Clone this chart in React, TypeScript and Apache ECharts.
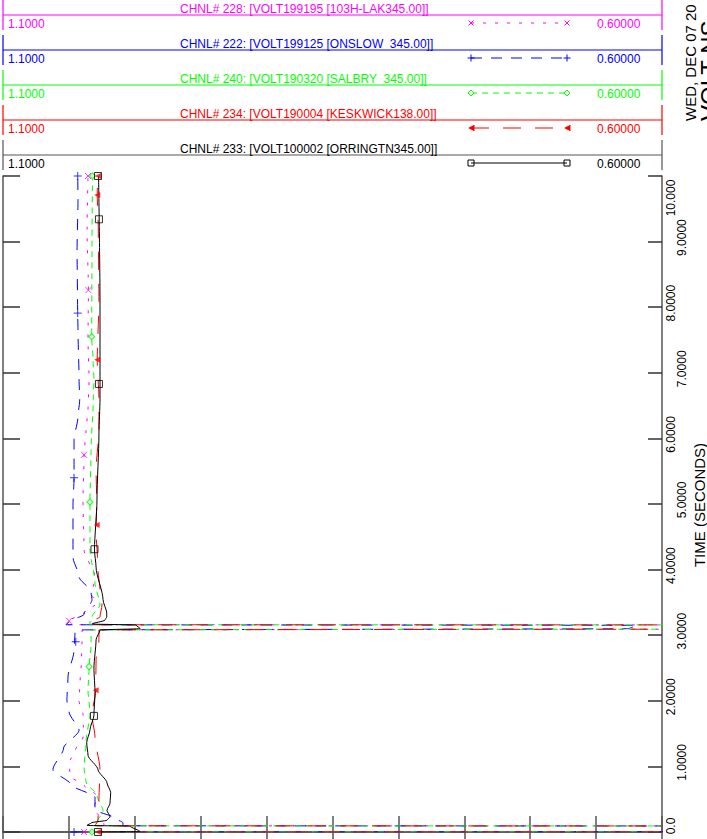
import React, { useEffect, useRef } from "react";
import * as echarts from "echarts";

const FONT = '"Liberation Sans", Arial, Helvetica, sans-serif';

// ---------- texts ----------
const CHANNEL_TITLES = [
  "CHNL# 228: [VOLT199195 [103H-LAK345.00]]",
  "CHNL# 222: [VOLT199125 [ONSLOW  345.00]]",
  "CHNL# 240: [VOLT190320 [SALBRY  345.00]]",
  "CHNL# 234: [VOLT190004 [KESKWICK138.00]]",
  "CHNL# 233: [VOLT100002 [ORRINGTN345.00]]",
];
const CHANNEL_COLORS = ["#ff00ff", "#0000ff", "#00ff00", "#ff0000", "#000000"];
const CHANNEL_DASH: (number[] | "solid")[] = [[3, 9], [11, 9], [6, 5], [18, 14], "solid"];
const CHANNEL_MARK = ["x", "plus", "diamond", "tri", "square"];
const SCALE_LEFT = "1.1000";
const SCALE_RIGHT = "0.60000";
const TIME_TICK_LABELS = ["0.0", "1.0000", "2.0000", "3.0000", "4.0000", "5.0000", "6.0000", "7.0000", "8.0000", "9.0000", "10.000"];
const AXIS_TITLE = "TIME (SECONDS)";
const DATE_TEXT = "WED, DEC 07 20";
const PLOT_TITLE = "VOLT NS";

const V_MIN = 0.6;
const V_MAX = 1.1;
const T_MIN = 0;
const T_MAX = 10;

// ---------- data: [time (s), voltage (pu)] ----------
const VOLT_103H_LAK: [number, number][] = [
  [0, 1.0385], [0.005, 0.3], [0.09, 0.3], [0.095, 1.0234], [0.12, 1.0234], [0.22, 1.0264],
  [0.35, 1.031], [0.55, 1.0287], [0.7, 1.038], [0.85, 1.049], [1.05, 1.0499], [1.25, 1.045],
  [1.45, 1.0392], [1.6, 1.039], [1.78, 1.0392], [2.0, 1.0423], [2.3, 1.0415], [2.6, 1.0405],
  [2.9, 1.04], [3.08, 1.04], [3.1, 0.3], [3.155, 0.3], [3.16, 1.0515], [3.22, 1.0499],
  [3.34, 1.0385], [3.49, 1.0287], [3.61, 1.0325], [3.89, 1.0302], [4.3, 1.0385], [5.06, 1.0393],
  [5.75, 1.0385], [6.13, 1.037], [6.43, 1.0355], [6.89, 1.0347], [7.5, 1.0355], [8.25, 1.0352],
  [9.18, 1.0362], [10, 1.0355],
];
const VOLT_ONSLOW: [number, number][] = [
  [0, 1.0461], [0.005, 0.3], [0.09, 0.3], [0.095, 1.009], [0.14, 1.009], [0.21, 1.015],
  [0.34, 1.0302], [0.53, 1.0302], [0.72, 1.0484], [0.95, 1.0621], [1.28, 1.054], [1.55, 1.0423],
  [1.83, 1.0499], [2.01, 1.0515], [2.36, 1.0507], [2.77, 1.0461], [3.03, 1.0454], [3.08, 1.0446],
  [3.1, 0.625], [3.15, 0.619], [3.16, 1.0522], [3.2, 1.05], [3.32, 1.0385], [3.54, 1.0325],
  [3.66, 1.0332], [3.89, 1.0423], [4.19, 1.0469], [4.98, 1.0469], [5.4, 1.0461], [5.98, 1.0461],
  [6.33, 1.0431], [6.59, 1.0418], [6.9, 1.0423], [7.65, 1.0431], [7.97, 1.0434], [8.87, 1.0438],
  [9.63, 1.0431], [10, 1.0433],
];
const VOLT_SALBRY: [number, number][] = [
  [0, 1.0325], [0.005, 0.3], [0.09, 0.3], [0.095, 1.0287], [0.15, 1.0287], [0.32, 1.0241],
  [0.56, 1.0287], [0.76, 1.037], [0.98, 1.0385], [1.37, 1.037], [1.81, 1.034], [2.16, 1.0355],
  [2.5, 1.0347], [2.85, 1.0332], [3.08, 1.0332], [3.1, 0.3], [3.155, 0.3], [3.16, 1.034],
  [3.23, 1.034], [3.28, 1.0325], [3.46, 1.0264], [3.8, 1.0302], [4.3, 1.034], [5.03, 1.034],
  [5.82, 1.0332], [6.59, 1.0315], [6.9, 1.031], [7.2, 1.0317], [7.55, 1.0327], [8.87, 1.0325],
  [10, 1.0321],
];
const VOLT_KESKWICK: [number, number][] = [
  [0, 1.0279], [0.005, 0.3], [0.09, 0.3], [0.095, 1.03], [0.18, 1.0279], [0.49, 1.0272],
  [0.95, 1.0264], [1.45, 1.0302], [1.78, 1.0325], [2.16, 1.0297], [2.62, 1.0294], [2.93, 1.0272],
  [3.08, 1.0272], [3.1, 0.3], [3.155, 0.3], [3.16, 1.034], [3.2, 1.034], [3.28, 1.0264],
  [3.46, 1.0249], [3.69, 1.0264], [3.99, 1.0279], [4.6, 1.0294], [5.06, 1.0289], [5.52, 1.0294],
  [6.13, 1.0272], [6.59, 1.0272], [7.2, 1.0285], [8.11, 1.0272], [9.18, 1.0277], [9.74, 1.0285],
  [10, 1.0279],
];
const VOLT_ORRINGTN: [number, number][] = [
  [0, 1.0279], [0.005, 0.996], [0.09, 1.0036], [0.1, 1.0363], [0.14, 1.033], [0.18, 1.0211],
  [0.23, 1.0188], [0.33, 1.0211], [0.44, 1.0188], [0.6, 1.0183], [0.75, 1.0211], [0.95, 1.0279],
  [1.17, 1.0355], [1.36, 1.0365], [1.56, 1.034], [1.78, 1.031], [2.12, 1.0302], [2.5, 1.031],
  [2.93, 1.0294], [3.08, 1.0264], [3.1, 0.996], [3.155, 0.999], [3.17, 1.0325], [3.23, 1.0226],
  [3.28, 1.0213], [3.34, 1.0213], [3.54, 1.0241], [4.04, 1.0294], [4.3, 1.0306], [5.06, 1.0287],
  [6.08, 1.0272], [6.6, 1.0264], [8.1, 1.0264], [10, 1.0275],
];

// marker positions [time, voltage]
const MARK_103H_LAK: [number, number][] = [[0, 1.0385], [3.22, 1.0499], [5.75, 1.0385], [8.26, 1.0352], [10, 1.0355]];
const MARK_ONSLOW: [number, number][] = [[0, 1.0461], [2.9, 1.0448], [5.4, 1.0461], [7.91, 1.0433], [10, 1.0433]];
const MARK_SALBRY: [number, number][] = [[0, 1.0325], [2.52, 1.0347], [5.03, 1.034], [7.55, 1.0327], [10, 1.0321]];
const MARK_KESKWICK: [number, number][] = [[0, 1.0279], [2.16, 1.0297], [4.68, 1.0289], [7.2, 1.0285], [9.71, 1.0285], [10, 1.0279]];
const MARK_ORRINGTN: [number, number][] = [[0, 1.0279], [1.77, 1.031], [4.31, 1.0306], [6.83, 1.0272], [9.34, 1.0272], [10, 1.0279]];

const CURVES = [VOLT_103H_LAK, VOLT_ONSLOW, VOLT_SALBRY, VOLT_KESKWICK, VOLT_ORRINGTN];
const MARKS = [MARK_103H_LAK, MARK_ONSLOW, MARK_SALBRY, MARK_KESKWICK, MARK_ORRINGTN];

const SYMBOLS: Record<string, any> = {
  x: { symbol: "path://M0,0L10,10M10,0L0,10", symbolSize: 6, symbolRotate: 0, fill: "rgba(0,0,0,0)", bw: 1 },
  plus: { symbol: "path://M5,0L5,10M0,5L10,5", symbolSize: 8, symbolRotate: 0, fill: "rgba(0,0,0,0)", bw: 1 },
  diamond: { symbol: "diamond", symbolSize: 6, symbolRotate: 0, fill: "#ffffff", bw: 1.2 },
  tri: { symbol: "triangle", symbolSize: 6, symbolRotate: 90, fill: null, bw: 0 },
  square: { symbol: "rect", symbolSize: 7, symbolRotate: 0, fill: "rgba(0,0,0,0)", bw: 1 },
};

function legendMarker(kind: string, x: number, y: number, color: string): any[] {
  const s = { stroke: color, lineWidth: 1, fill: "none" };
  if (kind === "x")
    return [
      { type: "line", shape: { x1: x - 2.5, y1: y - 2.5, x2: x + 2.5, y2: y + 2.5 }, style: s },
      { type: "line", shape: { x1: x + 2.5, y1: y - 2.5, x2: x - 2.5, y2: y + 2.5 }, style: s },
    ];
  if (kind === "plus")
    return [
      { type: "line", shape: { x1: x, y1: y - 3.5, x2: x, y2: y + 3.5 }, style: s },
      { type: "line", shape: { x1: x - 3.5, y1: y, x2: x + 3.5, y2: y }, style: s },
    ];
  if (kind === "diamond")
    return [{ type: "polygon", shape: { points: [[x, y - 3], [x + 3, y], [x, y + 3], [x - 3, y]] }, style: { stroke: color, lineWidth: 1, fill: "#fff" } }];
  if (kind === "tri")
    return [
      { type: "polygon", shape: { points: [[x - 3, y], [x + 3, y - 3], [x + 3, y + 3]] }, style: { fill: color } },
      { type: "line", shape: { x1: x + 3, y1: y - 3, x2: x + 3, y2: y + 3 }, style: s },
    ];
  return [{ type: "rect", shape: { x: x - 3, y: y - 3, width: 6, height: 6 }, style: { stroke: color, lineWidth: 1, fill: "none" } }];
}

export default function App() {
  const ref = useRef<HTMLDivElement>(null);

  useEffect(() => {
    if (!ref.current) return;
    const chart = echarts.init(ref.current, undefined, { renderer: "svg" });

    const gridLeft = 3;
    const gridRight = 662;
    const gridTop = 176;
    const gridBottom = 832;
    const axisColor = "#555";

    const graphics: any[] = [];
    CHANNEL_TITLES.forEach((title, i) => {
      const ly = 15 + i * 35;
      const c = CHANNEL_COLORS[i];
      const lc = i === 4 ? "#555" : c;
      graphics.push({ type: "line", shape: { x1: gridLeft, y1: ly, x2: gridRight, y2: ly }, style: { stroke: lc, lineWidth: 1.2 } });
      graphics.push({ type: "line", shape: { x1: gridLeft, y1: ly - 15, x2: gridLeft, y2: ly + 15 }, style: { stroke: lc, lineWidth: 1.2 } });
      graphics.push({ type: "line", shape: { x1: gridRight, y1: ly - 15, x2: gridRight, y2: ly + 15 }, style: { stroke: lc, lineWidth: 1.2 } });
      graphics.push({ type: "text", x: 180, y: ly - 0.5, style: { text: title, fill: c, font: `12px ${FONT}`, align: "left", verticalAlign: "bottom" } });
      graphics.push({ type: "text", x: 8, y: ly + 9, style: { text: SCALE_LEFT, fill: c, font: `12px ${FONT}`, align: "left", verticalAlign: "middle" } });
      graphics.push({ type: "text", x: 597, y: ly + 9, style: { text: SCALE_RIGHT, fill: c, font: `12px ${FONT}`, align: "left", verticalAlign: "middle" } });
      const dash = CHANNEL_DASH[i];
      graphics.push({
        type: "line",
        shape: { x1: 471, y1: ly + 8, x2: 567, y2: ly + 8 },
        style: { stroke: c, lineWidth: 1, lineDash: dash === "solid" ? null : dash },
      });
      graphics.push(...legendMarker(CHANNEL_MARK[i], 471, ly + 8, c));
      graphics.push(...legendMarker(CHANNEL_MARK[i], 567, ly + 8, c));
    });
    graphics.push({ type: "text", x: 699, y: 505, rotation: Math.PI / 2, style: { text: AXIS_TITLE, fill: "#000", font: `15px ${FONT}`, align: "center", verticalAlign: "middle" } });
    graphics.push({ type: "text", x: 690, y: 121, rotation: Math.PI / 2, style: { text: DATE_TEXT, fill: "#000", font: `15px ${FONT}`, align: "left", verticalAlign: "middle" } });
    graphics.push({ type: "text", x: 709, y: 121, rotation: Math.PI / 2, style: { text: PLOT_TITLE, fill: "#000", font: `24px ${FONT}`, align: "left", verticalAlign: "middle" } });

    const baseX = {
      type: "value",
      min: V_MIN,
      max: V_MAX,
      interval: 0.05,
      inverse: true,
      axisLine: { show: true, lineStyle: { color: axisColor, width: 1.5 } },
      axisTick: { show: true, inside: true, length: 16, lineStyle: { color: axisColor, width: 1.5 } },
      axisLabel: { show: false },
      splitLine: { show: false },
    };

    const labelFormatter = (even: boolean) => (val: number) => {
      const i = Math.round(val);
      if ((i % 2 === 0) !== even) return "";
      const s = TIME_TICK_LABELS[i];
      if (i === T_MAX) return `{top|${s}}`;
      if (i === T_MIN) return `{bot|${s}}`;
      return `{mid|${s}}`;
    };
    const rich = {
      top: { fontSize: 12, fontFamily: FONT, color: "#000", padding: [0, 44, 0, 0] },
      bot: { fontSize: 12, fontFamily: FONT, color: "#000", padding: [0, 0, 0, 12] },
      mid: { fontSize: 12, fontFamily: FONT, color: "#000", padding: [0, 0, 0, 8] },
    };

    const series: any[] = [];
    CURVES.forEach((curve, i) => {
      const dash = CHANNEL_DASH[i];
      series.push({
        type: "line",
        xAxisIndex: 0,
        yAxisIndex: 0,
        data: curve.map(([t, v]) => [v, t]),
        showSymbol: false,
        symbol: "none",
        smooth: 0.25,
        smoothMonotone: "y",
        clip: true,
        lineStyle: { color: CHANNEL_COLORS[i], width: 1, type: dash },
        z: 2 + i,
      });
    });
    MARKS.forEach((pts, i) => {
      const m = SYMBOLS[CHANNEL_MARK[i]];
      series.push({
        type: "scatter",
        xAxisIndex: 0,
        yAxisIndex: 0,
        data: pts.map(([t, v]) => [v, t]),
        symbol: m.symbol,
        symbolSize: m.symbolSize,
        symbolRotate: m.symbolRotate,
        clip: false,
        itemStyle: {
          color: m.fill === null ? CHANNEL_COLORS[i] : m.fill,
          borderColor: CHANNEL_COLORS[i],
          borderWidth: m.bw,
        },
        z: 10 + i,
      });
    });

    chart.setOption({
      animation: false,
      textStyle: { fontFamily: FONT },
      grid: { left: gridLeft, top: gridTop, width: gridRight - gridLeft, height: gridBottom - gridTop, containLabel: false },
      xAxis: [
        { ...baseX, position: "bottom" },
        { ...baseX, position: "top" },
      ],
      yAxis: [
        {
          type: "value",
          min: T_MIN,
          max: T_MAX,
          interval: 1,
          position: "left",
          axisLine: { show: true, lineStyle: { color: axisColor, width: 1.5 } },
          axisTick: { show: true, inside: true, length: 17, lineStyle: { color: "#333", width: 1.5 } },
          axisLabel: { show: false },
          splitLine: { show: false },
        },
        {
          type: "value",
          min: T_MIN,
          max: T_MAX,
          interval: 1,
          position: "right",
          axisLine: { show: true, lineStyle: { color: axisColor, width: 1.5 } },
          axisTick: { show: true, inside: true, length: 14, lineStyle: { color: "#333", width: 1.5 } },
          axisLabel: { show: true, rotate: 90, margin: 3, formatter: labelFormatter(true), rich },
          splitLine: { show: false },
        },
        {
          type: "value",
          min: T_MIN,
          max: T_MAX,
          interval: 1,
          position: "right",
          axisLine: { show: false },
          axisTick: { show: false },
          axisLabel: { show: true, rotate: 90, margin: 14, formatter: labelFormatter(false), rich },
          splitLine: { show: false },
        },
      ],
      graphic: { elements: graphics },
      series,
    });

    return () => chart.dispose();
  }, []);

  return <div ref={ref} style={{ position: "absolute", left: 0, top: 0, width: 707, height: 839, background: "#fff" }} />;
}
